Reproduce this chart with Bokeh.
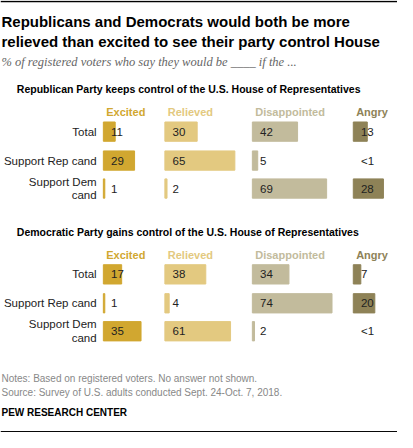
from bokeh.plotting import figure
from bokeh.models import Range1d
from bokeh.core.properties import value
from bokeh.embed import file_html
from bokeh.resources import INLINE

# data
categories = ["Excited", "Relieved", "Disappointed", "Angry"]
colors = ["#d1a730", "#e3c980", "#c2bb9c", "#8e8257"]
rows = ["Total", "Support Rep cand", "Support Dem\ncand"]
panels = ["Republican Party keeps control of the U.S. House of Representatives",
          "Democratic Party gains control of the U.S. House of Representatives"]
rep_keeps = [[11, 29, 1], [30, 65, 2], [42, 5, 69], [13, 0, 28]]
dem_gains = [[17, 1, 35], [38, 4, 61], [34, 74, 2], [7, 20, 0]]
rep_labels = [["11", "29", "1"], ["30", "65", "2"], ["42", "5", "69"], ["13", "<1", "28"]]
dem_labels = [["17", "1", "35"], ["38", "4", "61"], ["34", "74", "2"], ["7", "20", "<1"]]

W, H = 397, 432
p = figure(width=W, height=H, output_backend="svg", toolbar_location=None,
           x_range=Range1d(0, 413), y_range=Range1d(448, 0), min_border=0)
p.axis.visible = False
p.grid.visible = False
p.outline_line_color = None

FONT = value("Liberation Sans")
col_x = [107, 171, 262, 367]
scale = 1.12

p.line([0, 413], [1, 1], line_color="black", line_width=1.5)
p.line([0, 413], [447, 447], line_color="black", line_width=1)
p.text([1, 1], [22, 42],
       text=["Republicans and Democrats would both be more",
             "relieved than excited to see their party control House"],
       text_font=FONT, text_font_style="bold", text_font_size="15px",
       text_baseline="middle", text_color="#000")
p.text([1], [64], text=["% of registered voters who say they would be ____ if the ..."],
       text_font=value("Liberation Serif"), text_font_style="italic",
       text_font_size="12.5px", text_baseline="middle", text_color="#666")

def panel(y0, title, vals, labels):
    p.text([17], [y0], text=[title], text_font=FONT, text_font_style="bold",
           text_font_size="10.5px", text_baseline="middle", text_color="#000")
    for i, c in enumerate(categories):
        p.text([col_x[i] + 3], [y0 + 24], text=[c], text_font=FONT,
               text_font_style="bold", text_font_size="11px",
               text_baseline="middle", text_color=colors[i])
    ys = [y0 + 44, y0 + 74, y0 + 103]
    p.text([100] * 3, ys, text=rows, text_font=FONT, text_font_size="11.5px",
           text_align="right", text_baseline="middle", text_color="#222",
           text_line_height=1.15)
    for i in range(4):
        v = vals[i]
        keep = [k for k in range(3) if v[k] > 0]
        p.hbar(y=[ys[k] for k in keep], left=col_x[i],
               right=[col_x[i] + max(v[k] * scale, 1.5) for k in keep],
               height=20, color=colors[i])
        p.text([col_x[i] + 8] * 3, ys, text=labels[i], text_font=FONT,
               text_font_size="11.5px", text_baseline="middle", text_color="#222")

panel(92, panels[0], rep_keeps, rep_labels)
panel(240, panels[1], dem_gains, dem_labels)

p.text([1, 1], [392, 406],
       text=["Notes: Based on registered voters.  No answer not shown.",
             "Source: Survey of U.S. adults conducted Sept. 24-Oct. 7, 2018."],
       text_font=FONT, text_font_size="10px", text_baseline="middle", text_color="#888")
p.text([1], [427], text=["PEW RESEARCH CENTER"], text_font=FONT,
       text_font_style="bold", text_font_size="10px", text_baseline="middle",
       text_color="#000")

open("out.html", "w").write(file_html(p, INLINE))
